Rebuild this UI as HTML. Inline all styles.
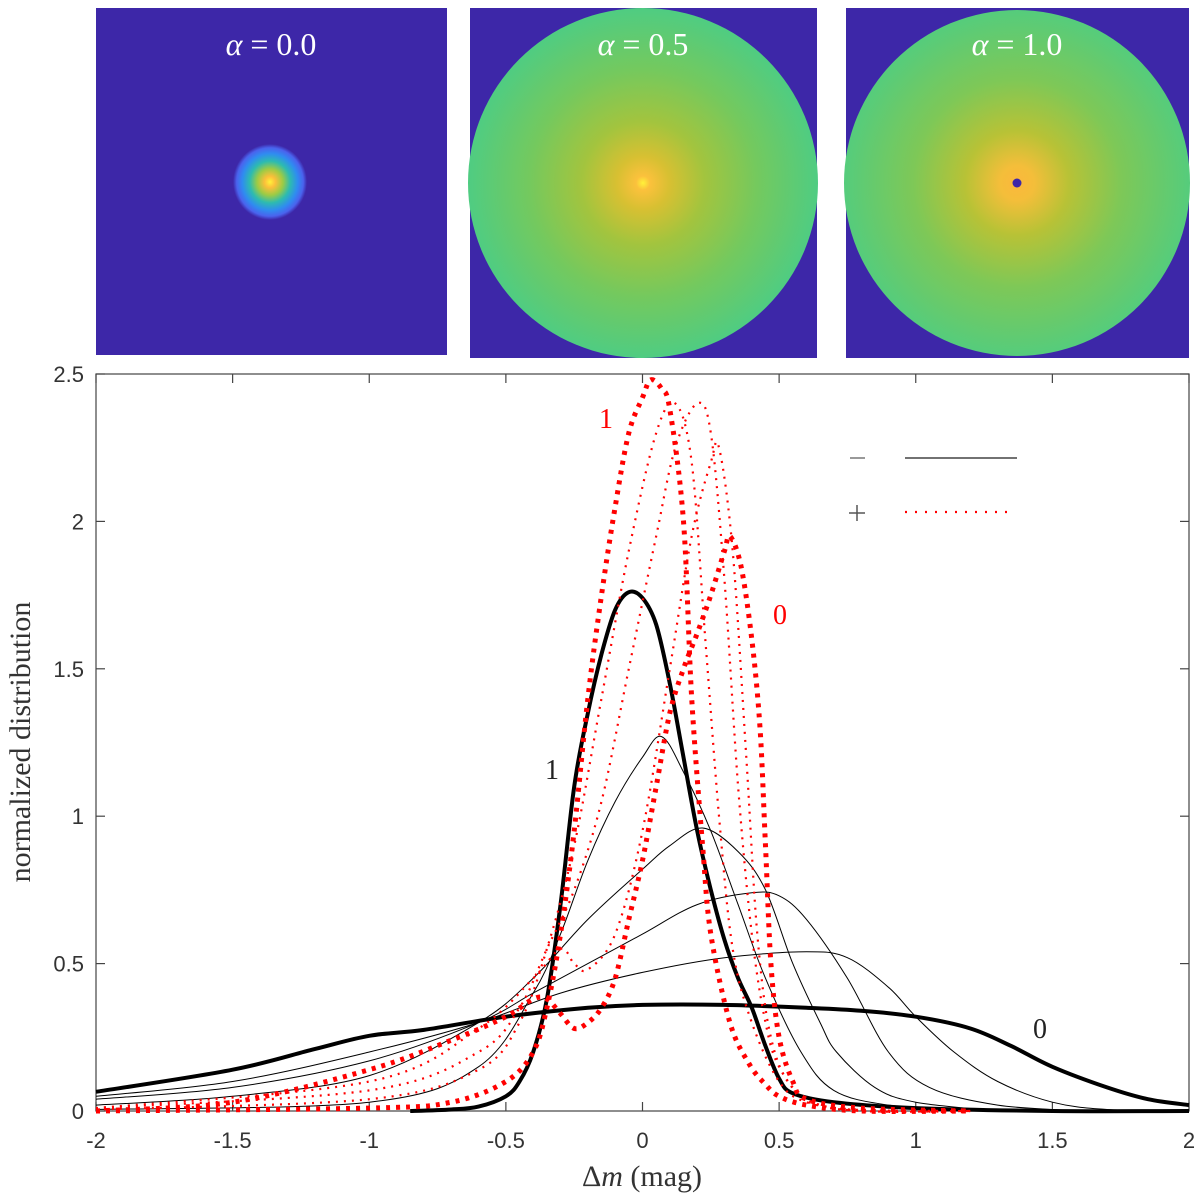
<!DOCTYPE html>
<html><head><meta charset="utf-8"><style>
html,body{margin:0;padding:0;background:#fff;}
svg{display:block;}
</style></head><body>
<svg id="fig" width="1200" height="1199" viewBox="0 0 1200 1199" xmlns="http://www.w3.org/2000/svg">
<defs>
<radialGradient id="gBlob" cx="0.5" cy="0.5" r="0.5">
<stop offset="0" stop-color="#fff23a"/><stop offset="0.15" stop-color="#fbbf3a"/><stop offset="0.35" stop-color="#9ccb45"/><stop offset="0.55" stop-color="#2dbbb0"/><stop offset="0.75" stop-color="#2f8cf0"/><stop offset="0.9" stop-color="#4a63ee"/><stop offset="1" stop-color="#3d27a8"/>
</radialGradient>
<radialGradient id="gDisk" cx="0.5" cy="0.5" r="0.5">
<stop offset="0" stop-color="#fff23a"/><stop offset="0.04" stop-color="#fbc13c"/><stop offset="0.15" stop-color="#d8c032"/><stop offset="0.35" stop-color="#a3c43e"/><stop offset="0.65" stop-color="#74c95e"/><stop offset="1" stop-color="#4fcc82"/>
</radialGradient>
<radialGradient id="gDisk3" cx="0.5" cy="0.5" r="0.5">
<stop offset="0" stop-color="#fbb83c"/><stop offset="0.1" stop-color="#f4be3a"/><stop offset="0.3" stop-color="#b8c236"/><stop offset="0.6" stop-color="#7ec857"/><stop offset="1" stop-color="#55cc7c"/>
</radialGradient>
</defs>
<g>
<rect x="96" y="8" width="351" height="347" fill="#3d27a8"/>
<ellipse cx="270" cy="182" rx="37" ry="38" fill="url(#gBlob)"/>
<text x="271" y="55" text-anchor="middle" fill="#fff" font-family="Liberation Serif, serif" font-size="32"><tspan font-style="italic">α</tspan> = 0.0</text>
</g>
<g>
<rect x="470" y="8" width="347" height="350" fill="#3d27a8"/>
<circle cx="643" cy="183" r="175" fill="url(#gDisk)"/>
<text x="643" y="55" text-anchor="middle" fill="#fff" font-family="Liberation Serif, serif" font-size="32"><tspan font-style="italic">α</tspan> = 0.5</text>
</g>
<g>
<rect x="846" y="8" width="343" height="350" fill="#3d27a8"/>
<circle cx="1017" cy="183" r="173" fill="url(#gDisk3)"/>
<circle cx="1017" cy="183" r="4.5" fill="#3d27a8"/>
<text x="1017" y="55" text-anchor="middle" fill="#fff" font-family="Liberation Serif, serif" font-size="32"><tspan font-style="italic">α</tspan> = 1.0</text>
</g>
<g id="chart"></g>
</svg>
<script>
// ---- data ----
const xTicks = [-2,-1.5,-1,-0.5,0,0.5,1,1.5,2];
const xTickLabels = ["-2","-1.5","-1","-0.5","0","0.5","1","1.5","2"];
const yTicks = [0,0.5,1,1.5,2,2.5];
const yTickLabels = ["0","0.5","1","1.5","2","2.5"];

const blackA0x = [-2,-1.5,-1.2,-1,-0.8,-0.5,-0.2,0,0.3,0.6,0.8,1.0,1.2,1.35,1.5,1.7,1.85,2];
const blackA0y = [0.065,0.14,0.21,0.255,0.275,0.32,0.35,0.36,0.36,0.35,0.34,0.32,0.28,0.22,0.15,0.08,0.04,0.02];
const blackT4x = [-2,-1.5,-1,-0.6,-0.3,0,0.3,0.6,0.75,0.9,1.0,1.14,1.3,1.5,1.7,2];
const blackT4y = [0.05,0.1,0.2,0.3,0.4,0.47,0.52,0.54,0.52,0.42,0.32,0.2,0.1,0.03,0.005,0];
const blackT3x = [-2,-1.5,-1,-0.6,-0.4,-0.2,0,0.2,0.4,0.5,0.6,0.75,0.9,1.05,1.3,1.6];
const blackT3y = [0.04,0.08,0.17,0.3,0.4,0.5,0.6,0.7,0.74,0.73,0.65,0.45,0.2,0.08,0.02,0];
const blackT2x = [-2,-1.5,-1,-0.6,-0.4,-0.2,0,0.1,0.22,0.35,0.45,0.55,0.65,0.71,0.85,1.0,1.3];
const blackT2y = [0.02,0.05,0.12,0.3,0.45,0.65,0.82,0.9,0.96,0.88,0.75,0.5,0.3,0.2,0.08,0.03,0];
const blackT1x = [-2,-1,-0.6,-0.4,-0.3,-0.2,-0.1,0,0.07,0.15,0.25,0.35,0.45,0.58,0.7,0.9,1.2];
const blackT1y = [0.005,0.03,0.15,0.4,0.6,0.85,1.05,1.2,1.27,1.15,0.95,0.7,0.45,0.2,0.07,0.02,0];
const blackA1x = [-0.85,-0.7,-0.6,-0.5,-0.45,-0.4,-0.35,-0.3,-0.25,-0.2,-0.15,-0.1,-0.05,0,0.05,0.1,0.15,0.2,0.25,0.3,0.35,0.4,0.45,0.5,0.55,0.7,1.0,1.5,2];
const blackA1y = [0,0.005,0.015,0.05,0.1,0.2,0.38,0.7,1.1,1.35,1.55,1.7,1.76,1.74,1.65,1.45,1.2,0.95,0.75,0.58,0.45,0.35,0.22,0.11,0.06,0.03,0.01,0,0];

const redA1x = [-2,-1,-0.7,-0.5,-0.4,-0.35,-0.3,-0.25,-0.2,-0.15,-0.1,-0.05,0,0.03,0.07,0.1,0.15,0.18,0.22,0.25,0.32,0.39,0.45,0.5,0.6,0.8,1.2];
const redA1y = [0,0.01,0.03,0.1,0.2,0.35,0.6,0.95,1.4,1.75,2.05,2.3,2.42,2.48,2.45,2.38,2.0,1.4,0.9,0.6,0.3,0.16,0.09,0.05,0.02,0,0];
const redT2x = [-2,-1,-0.6,-0.45,-0.35,-0.25,-0.15,-0.05,0.05,0.12,0.18,0.23,0.28,0.33,0.4,0.5,0.6,0.8,1.2];
const redT2y = [0.005,0.04,0.14,0.3,0.55,0.9,1.4,1.9,2.3,2.4,2.2,1.6,1.0,0.55,0.3,0.1,0.03,0,0];
const redT3x = [-2,-1,-0.6,-0.45,-0.35,-0.25,-0.15,-0.05,0.05,0.12,0.2,0.25,0.3,0.35,0.4,0.45,0.5,0.6,0.8,1.2];
const redT3y = [0.01,0.07,0.2,0.35,0.55,0.75,1.05,1.5,1.95,2.25,2.4,2.3,1.8,1.1,0.6,0.3,0.15,0.04,0,0];
const redT4x = [-2,-1,-0.6,-0.4,-0.3,-0.25,-0.2,-0.1,0,0.1,0.18,0.25,0.28,0.33,0.38,0.42,0.47,0.55,0.7,1.2];
const redT4y = [0.01,0.1,0.28,0.45,0.55,0.5,0.48,0.6,0.95,1.5,1.95,2.2,2.25,1.9,1.2,0.6,0.25,0.08,0.01,0];
const redA0x = [-2,-1.5,-1,-0.7,-0.5,-0.4,-0.35,-0.3,-0.25,-0.2,-0.15,-0.1,-0.05,0,0.05,0.1,0.15,0.2,0.25,0.3,0.32,0.36,0.4,0.43,0.45,0.47,0.5,0.55,0.6,0.8,1.2];
const redA0y = [0,0.03,0.14,0.24,0.32,0.38,0.38,0.33,0.28,0.3,0.35,0.45,0.65,0.85,1.1,1.35,1.5,1.62,1.75,1.9,1.95,1.85,1.6,1.3,0.9,0.5,0.25,0.1,0.04,0.01,0];

// ---- layout ----
const L=96,R=1189,T=374,B=1111;
const xMin=-2,xMax=2,yMin=0,yMax=2.5;
function sx(v){return L+(v-xMin)/(xMax-xMin)*(R-L);}
function sy(v){return B-(v-yMin)/(yMax-yMin)*(B-T);}
const NS="http://www.w3.org/2000/svg";
const g=document.getElementById('chart');
function mk(tag,attrs,parent){const e=document.createElementNS(NS,tag);for(const k in attrs)e.setAttribute(k,attrs[k]);(parent||g).appendChild(e);return e;}
function pathFrom(xs,ys){
  const p=xs.map((x,i)=>[sx(x),sy(ys[i])]);
  let d='M'+p[0][0].toFixed(1)+','+p[0][1].toFixed(1);
  for(let i=0;i<p.length-1;i++){
    const p0=p[Math.max(0,i-1)],p1=p[i],p2=p[i+1],p3=p[Math.min(p.length-1,i+2)];
    const c1x=p1[0]+(p2[0]-p0[0])/6,c1y=p1[1]+(p2[1]-p0[1])/6;
    const c2x=p2[0]-(p3[0]-p1[0])/6,c2y=p2[1]-(p3[1]-p1[1])/6;
    d+='C'+c1x.toFixed(1)+','+c1y.toFixed(1)+' '+c2x.toFixed(1)+','+c2y.toFixed(1)+' '+p2[0].toFixed(1)+','+p2[1].toFixed(1);
  }
  return d;
}

const box=mk('rect',{x:L,y:T,width:R-L,height:B-T,fill:'none',stroke:'#444','stroke-width':1.2});



xTicks.forEach((v,i)=>{
  const x=sx(v);
  mk('line',{x1:x,x2:x,y1:B,y2:B-9,stroke:'#444','stroke-width':1.2});
  mk('line',{x1:x,x2:x,y1:T,y2:T+9,stroke:'#444','stroke-width':1.2});
  const t=mk('text',{x:x,y:B+37,'text-anchor':'middle','font-family':'Liberation Sans, sans-serif','font-size':22,fill:'#333'});
  t.textContent=xTickLabels[i];
  
  
});
yTicks.forEach((v,i)=>{
  const y=sy(v);
  mk('line',{x1:L,x2:L+9,y1:y,y2:y,stroke:'#444','stroke-width':1.2});
  mk('line',{x1:R,x2:R-9,y1:y,y2:y,stroke:'#444','stroke-width':1.2});
  const t=mk('text',{x:L-12,y:y+8,'text-anchor':'end','font-family':'Liberation Sans, sans-serif','font-size':22,fill:'#333'});
  t.textContent=yTickLabels[i];
  
  
});

const series=[
 [blackA0x,blackA0y,'#000',4,null,'black-alpha-0'],
 [blackT4x,blackT4y,'#000',1,null,'black-alpha-0.25'],
 [blackT3x,blackT3y,'#000',1,null,'black-alpha-0.5'],
 [blackT2x,blackT2y,'#000',1,null,'black-alpha-0.75'],
 [blackT1x,blackT1y,'#000',1,null,'black-alpha-0.9'],
 [blackA1x,blackA1y,'#000',4,null,'black-alpha-1'],
 [redA0x,redA0y,'#ff0000',5,'4 6','red-alpha-0'],
 [redT4x,redT4y,'#ff0000',2.2,'2 6','red-alpha-0.25'],
 [redT3x,redT3y,'#ff0000',2.2,'2 6','red-alpha-0.5'],
 [redT2x,redT2y,'#ff0000',2.2,'2 6','red-alpha-0.75'],
 [redA1x,redA1y,'#ff0000',5,'4 6','red-alpha-1']
];
series.forEach(s=>{
  const a={d:pathFrom(s[0],s[1]),fill:'none',stroke:s[2],'stroke-width':s[3],'stroke-linejoin':'round'};
  if(s[4])a['stroke-dasharray']=s[4];
  const p=mk('path',a);
  
  
});

function lbl(x,y,txt,col,name){
  const t=mk('text',{x:x,y:y,'text-anchor':'middle','font-family':'Liberation Serif, serif','font-size':28,fill:col});
  t.textContent=txt;
  
  
}
lbl(606,428,'1','#ff0000','red-label-1');
lbl(780,624,'0','#ff0000','red-label-0');
lbl(552,779,'1','#222','black-label-1');
lbl(1040,1038,'0','#222','black-label-0');

const lg=mk('g',{});


mk('line',{x1:850,x2:865,y1:458,y2:458,stroke:'#999','stroke-width':2},lg);
mk('line',{x1:905,x2:1017,y1:458,y2:458,stroke:'#444','stroke-width':1.5},lg);
mk('line',{x1:849,x2:865,y1:513,y2:513,stroke:'#555','stroke-width':1.5},lg);
mk('line',{x1:857,x2:857,y1:505,y2:521,stroke:'#555','stroke-width':1.5},lg);
mk('line',{x1:905,x2:1012,y1:512,y2:512,stroke:'#ff0000','stroke-width':2.2,'stroke-dasharray':'2 8'},lg);

const xt=mk('text',{x:642,y:1186,'text-anchor':'middle','font-family':'Liberation Serif, serif','font-size':30,fill:'#333'});
xt.innerHTML='Δ<tspan font-style="italic">m</tspan> (mag)';


const yt=mk('text',{x:0,y:0,'text-anchor':'middle','font-family':'Liberation Serif, serif','font-size':30,fill:'#333',transform:'translate(30,742) rotate(-90)'});
yt.textContent='normalized distribution';


</script>
</body></html>
